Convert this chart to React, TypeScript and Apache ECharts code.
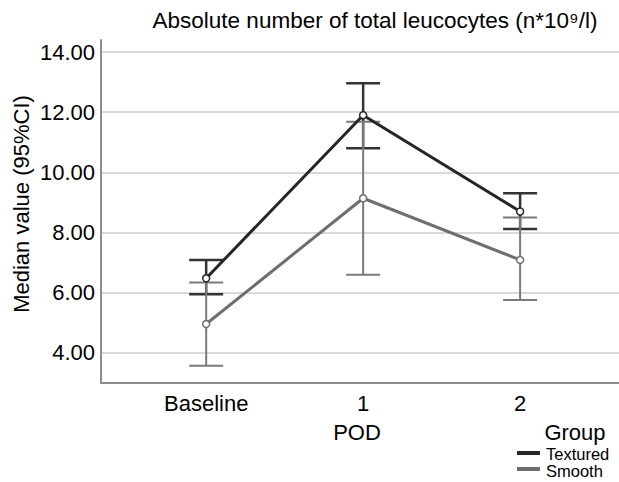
import React, { useEffect, useRef } from "react";
import * as echarts from "echarts";

const categories = ["Baseline", "1", "2"];
const texturedMedian = [6.48, 11.9, 8.7];
const texturedLow = [5.95, 10.8, 8.12];
const texturedHigh = [7.09, 12.96, 9.31];
const smoothMedian = [4.96, 9.14, 7.09];
const smoothLow = [3.57, 6.6, 5.76];
const smoothHigh = [6.34, 11.68, 8.5];
const yTicks = [4, 6, 8, 10, 12, 14];
const xTicks = [0, 1, 2];

const FONT = "'Liberation Sans', Arial, sans-serif";
const DARK = "#262626";
const GRAY = "#6e6e6e";
const TEXT = "#000000";

function errorSeries(low: number[], high: number[], color: string, width: number) {
  return {
    type: "custom",
    data: low.map((l, i) => [i, l, high[i]]),
    encode: { x: 0, y: [1, 2] },
    renderItem: (params: any, api: any) => {
      const x = api.value(0);
      const pLo = api.coord([x, api.value(1)]);
      const pHi = api.coord([x, api.value(2)]);
      const hw = 17;
      const style = { stroke: color, lineWidth: width };
      return {
        type: "group",
        children: [
          { type: "line", shape: { x1: pLo[0], y1: pLo[1], x2: pHi[0], y2: pHi[1] }, style },
          { type: "line", shape: { x1: pLo[0] - hw, y1: pLo[1], x2: pLo[0] + hw, y2: pLo[1] }, style },
          { type: "line", shape: { x1: pHi[0] - hw, y1: pHi[1], x2: pHi[0] + hw, y2: pHi[1] }, style },
        ],
      };
    },
  };
}

function lineSeries(name: string, values: number[], color: string) {
  return {
    type: "line",
    name,
    data: values.map((v, i) => [i, v]),
    lineStyle: { color, width: 3 },
    itemStyle: { color: "#ffffff", borderColor: color, borderWidth: 1.5 },
    symbol: "circle",
    symbolSize: 7,
  };
}

export default function App() {
  const ref = useRef<HTMLDivElement>(null);
  useEffect(() => {
    if (!ref.current) return;
    const chart = echarts.init(ref.current, null, { renderer: "svg" });
    chart.setOption({
      animation: false,
      textStyle: { fontFamily: FONT },
      grid: { left: 101, right: 0, top: 40, bottom: 99, containLabel: false },
      xAxis: {
        type: "value",
        min: -0.67,
        max: 2.63,
        axisLine: { show: true, onZero: false, lineStyle: { color: "#8c8c8c", width: 2 } },
        axisTick: { show: false, customValues: xTicks },
        splitLine: { show: false },
        axisLabel: {
          customValues: xTicks,
          formatter: (v: number) => categories[Math.round(v)],
          color: TEXT,
          fontSize: 22,
          fontFamily: FONT,
          margin: 9,
        },
      },
      yAxis: {
        type: "value",
        min: 3,
        max: 14.4,
        axisLine: { show: true, onZero: false, lineStyle: { color: "#8c8c8c", width: 2 } },
        axisTick: { show: false, customValues: yTicks },
        splitLine: { show: true, lineStyle: { color: "#d9d9d9", width: 2 } },
        axisLabel: {
          customValues: yTicks,
          formatter: (v: number) => v.toFixed(2),
          color: TEXT,
          fontSize: 22,
          fontFamily: FONT,
          margin: 6,
        },
      },
      graphic: [
        {
          type: "text",
          x: 375,
          y: 20,
          style: {
            text: "Absolute number of total leucocytes (n*10\u2079/l)",
            fontSize: 22.5,
            fontFamily: FONT,
            fill: TEXT,
            align: "center",
            verticalAlign: "middle",
          },
        },
        {
          type: "text",
          x: 21,
          y: 204,
          rotation: Math.PI / 2,
          style: {
            text: "Median value (95%CI)",
            fontSize: 22,
            fontFamily: FONT,
            fill: TEXT,
            align: "center",
            verticalAlign: "middle",
          },
        },
        {
          type: "text",
          x: 357,
          y: 432,
          style: { text: "POD", fontSize: 22, fontFamily: FONT, fill: TEXT, align: "center", verticalAlign: "middle" },
        },
        {
          type: "text",
          x: 575,
          y: 432,
          style: { text: "Group", fontSize: 22, fontFamily: FONT, fill: TEXT, align: "center", verticalAlign: "middle" },
        },
        {
          type: "line",
          shape: { x1: 517, y1: 453, x2: 540, y2: 453 },
          style: { stroke: DARK, lineWidth: 4 },
        },
        {
          type: "text",
          x: 546,
          y: 454,
          style: { text: "Textured", fontSize: 16.5, fontFamily: FONT, fill: TEXT, align: "left", verticalAlign: "middle" },
        },
        {
          type: "line",
          shape: { x1: 517, y1: 469, x2: 540, y2: 469 },
          style: { stroke: GRAY, lineWidth: 4 },
        },
        {
          type: "text",
          x: 546,
          y: 471,
          style: { text: "Smooth", fontSize: 16.5, fontFamily: FONT, fill: TEXT, align: "left", verticalAlign: "middle" },
        },
      ],
      series: [
        errorSeries(texturedLow, texturedHigh, "#333333", 2.5),
        errorSeries(smoothLow, smoothHigh, "#7a7a7a", 2),
        lineSeries("Smooth", smoothMedian, GRAY),
        lineSeries("Textured", texturedMedian, DARK),
      ],
    });
    return () => chart.dispose();
  }, []);
  return (
    <div
      ref={ref}
      style={{ position: "absolute", left: 0, top: 0, width: 619, height: 482, background: "#fff" }}
    />
  );
}
